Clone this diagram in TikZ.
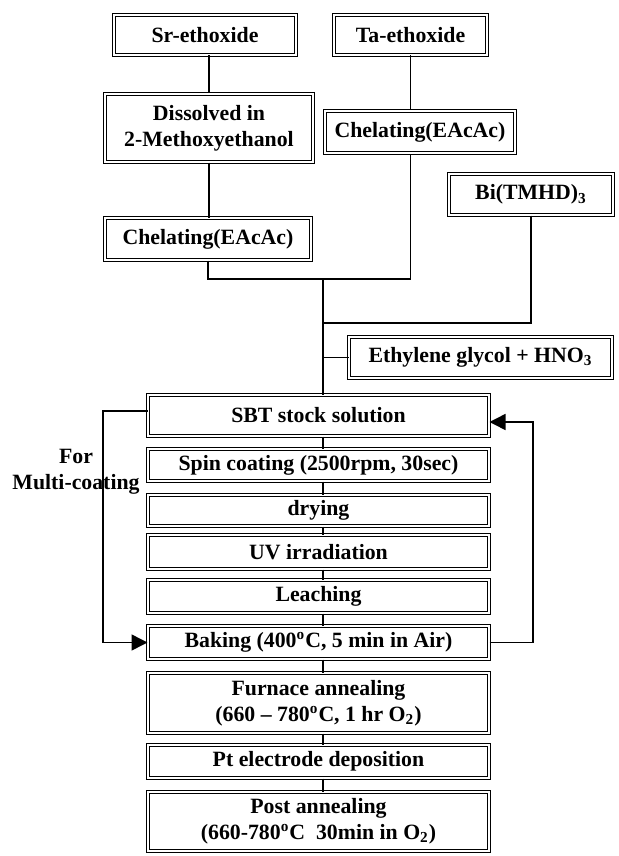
\documentclass[tikz,border=0pt]{standalone}
\usepackage{fontspec}
\setmainfont{Liberation Serif}
\usetikzlibrary{arrows.meta,positioning,calc}

\begin{document}
\begin{tikzpicture}[
    x=0.5pt, y=-0.5pt,
    box/.style={draw, line width=0.7pt, double, double distance=0.8pt, inner sep=0pt, align=center,
        font=\bfseries\fontsize{10.9}{12.8}\selectfont, minimum width=170.3pt, minimum height=16.3pt},
    line/.style={line width=0.75pt},
    arr/.style={-{Triangle[length=8pt, width=8pt]}, line width=0.75pt}
]
\useasboundingbox (0,0) rectangle (618,856);

% precursors
\node[box, minimum width=90.8pt, minimum height=19.8pt] (sr) at (205,35) {Sr-ethoxide};
\node[box, minimum width=76.3pt, minimum height=19.8pt] (ta) at (410.5,35) {Ta-ethoxide};
\node[box, minimum width=103.8pt, minimum height=33.8pt] (dis) at (209,128) {Dissolved in\\2-Methoxyethanol};
\node[box, minimum width=94.8pt, minimum height=20.8pt] (chta) at (420,132) {Chelating(EAcAc)};
\node[box, minimum width=102.8pt, minimum height=20.8pt] (chsr) at (208,239) {Chelating(EAcAc)};
\node[box, minimum width=81.8pt, minimum height=20.3pt] (bi) at (531,194.5) {Bi(TMHD)\textsubscript{3}};
\node[box, minimum width=131.3pt, minimum height=20.3pt] (eg) at (480.5,357.5) {Ethylene glycol + HNO\textsubscript{3}};

% process steps
\node[box, minimum height=20.3pt] (sbt) at (318.5,415.5) {SBT stock solution};
\node[box, minimum height=15.8pt] (spin) at (318.5,465) {Spin coating (2500rpm, 30sec)};
\node[box, minimum height=15.3pt] (dry) at (318.5,510.5) {drying};
\node[box, minimum height=16.8pt] (uv) at (318.5,552) {UV irradiation};
\node[box] (leach) at (318.5,596.5) {Leaching};
\node[box] (bake) at (318.5,642.5) {Baking (400\textsuperscript{o}C, 5 min in Air)};
\node[box, minimum height=29.8pt] (furn) at (318.5,703) {Furnace annealing\\(660 -- 780\textsuperscript{o}C, 1 hr O\textsubscript{2})};
\node[box] (ptdep) at (318.5,761.5) {Pt electrode deposition};
\node[box, minimum height=29.3pt] (post) at (318.5,821.5) {Post annealing\\(660-780\textsuperscript{o}C\ \ 30min in O\textsubscript{2})};

\node[font=\bfseries\fontsize{10.9}{12.8}\selectfont, align=center] (formulti) at (76,472) {For\\Multi-coating};

\coordinate (mix) at (323,279);
\coordinate (bij) at (323,323);
\coordinate (lft) at (103,411);
\coordinate (rgt) at (533,422);

% mixing lines
\draw[line] (dis.north |- sr.south) -- (dis.north);
\draw[line] (dis.south) -- (dis.south |- chsr.north);
\draw[line] (ta.south) -- (ta.south |- chta.north);
\draw[line] (chsr.south) |- (ta.south |- mix) -- (ta.south |- chta.south);
\draw[line] (bi.south) |- (bij);
\draw[line] (eg.west) -- (mix |- eg.west);
\draw[line] (mix) -- (mix |- sbt.north);

\foreach \a/\b in {sbt/spin, spin/dry, dry/uv, uv/leach, leach/bake, bake/furn, furn/ptdep, ptdep/post}
    \draw[line] (mix |- \a.south) -- (mix |- \b.north);

% loops
\draw[arr] (sbt.west |- lft) -- (lft) |- (bake.west);
\draw[arr] (bake.east) -| (rgt) -- (sbt.east |- rgt);
\end{tikzpicture}
\end{document}
